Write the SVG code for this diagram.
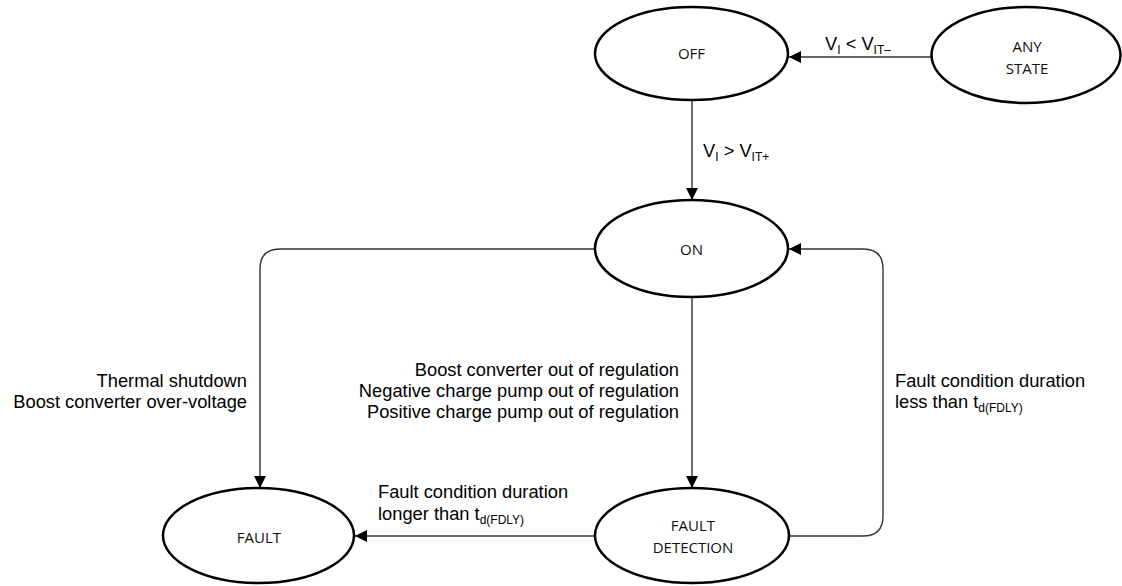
<svg xmlns="http://www.w3.org/2000/svg" width="1122" height="586" viewBox="0 0 1122 586">
<defs>
<marker id="ah" viewBox="0 0 12 12" refX="12" refY="6" markerWidth="12" markerHeight="12" markerUnits="userSpaceOnUse" orient="auto">
<path d="M0,0 L12,6 L0,12 Z" fill="#000"/>
</marker>
<style>
.node ellipse{fill:#fff;stroke:#000;stroke-width:2.5}
.node text{font-family:"Open Sans","Liberation Sans",sans-serif;font-size:15px;fill:#111;text-anchor:middle}
.conn path{fill:none;stroke:#333;stroke-width:1.4;marker-end:url(#ah)}
.lbl{font-family:"Liberation Sans",Arial,sans-serif;font-size:18.3px;fill:#000}
.sub{font-size:12px}
</style>
</defs>
<rect width="1122" height="586" fill="#fff"/>
<g id="connectors" class="conn">
<path d="M931,57 L789,57"/>
<path d="M692,100 L692,200"/>
<path d="M595,249 L280,249 Q260,249 260,269 L260,488"/>
<path d="M692,297 L692,488"/>
<path d="M595,536 L355,536"/>
<path d="M789,536 L863,536 Q883,536 883,516 L883,269 Q883,249 863,249 L789,249"/>
</g>
<g id="node-off" class="node"><ellipse cx="691.5" cy="53.5" rx="96.5" ry="46.5"/><text x="691.5" y="59">OFF</text></g>
<g id="node-any" class="node"><ellipse cx="1026" cy="55" rx="94.5" ry="48"/><text x="1027" y="52">ANY</text><text x="1027" y="74">STATE</text></g>
<g id="node-on" class="node"><ellipse cx="691.5" cy="248.5" rx="96.5" ry="48.5"/><text x="691.5" y="255">ON</text></g>
<g id="node-fault" class="node"><ellipse cx="258.5" cy="535.5" rx="95.5" ry="47.5"/><text x="259" y="543">FAULT</text></g>
<g id="node-fd" class="node"><ellipse cx="692" cy="535.5" rx="97" ry="47.5"/><text x="693" y="531">FAULT</text><text x="693" y="553">DETECTION</text></g>
<g id="labels">
<text class="lbl" x="825" y="50">V<tspan class="sub" dy="4">I</tspan><tspan dy="-4"> &lt; V</tspan><tspan class="sub" dy="4">IT–</tspan></text>
<text class="lbl" x="703" y="157">V<tspan class="sub" dy="4">I</tspan><tspan dy="-4"> &gt; V</tspan><tspan class="sub" dy="4">IT+</tspan></text>
<text class="lbl" text-anchor="end" x="247" y="387">Thermal shutdown</text>
<text class="lbl" text-anchor="end" x="247" y="408">Boost converter over-voltage</text>
<text class="lbl" text-anchor="end" x="679" y="376">Boost converter out of regulation</text>
<text class="lbl" text-anchor="end" x="679" y="397">Negative charge pump out of regulation</text>
<text class="lbl" text-anchor="end" x="679" y="418">Positive charge pump out of regulation</text>
<text class="lbl" x="895" y="387">Fault condition duration</text>
<text class="lbl" x="895" y="408">less than t<tspan class="sub" dy="4">d(FDLY)</tspan></text>
<text class="lbl" x="378" y="498">Fault condition duration</text>
<text class="lbl" x="378" y="520">longer than t<tspan class="sub" dy="4">d(FDLY)</tspan></text>
</g>
</svg>
